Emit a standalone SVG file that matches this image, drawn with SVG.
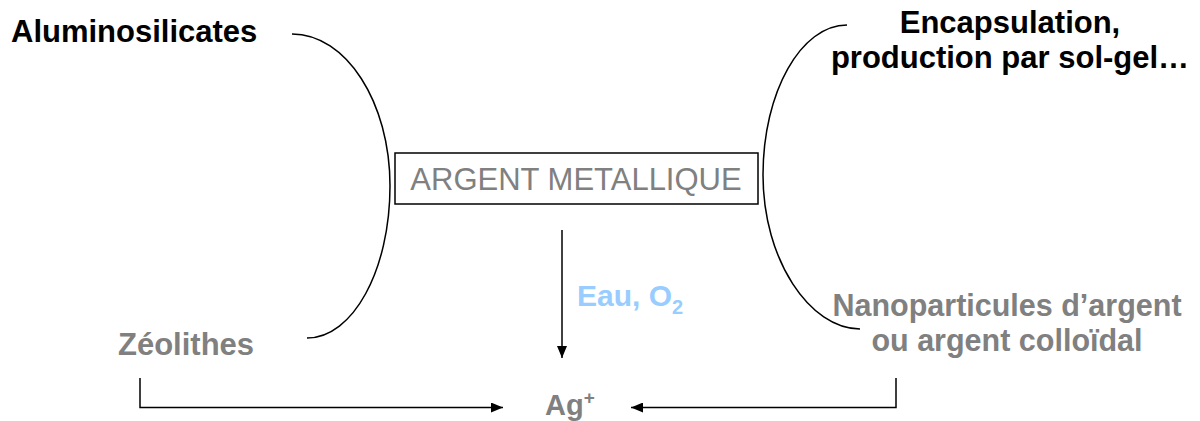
<svg xmlns="http://www.w3.org/2000/svg" width="1200" height="421" viewBox="0 0 1200 421">
<style>
.t{font-family:"Liberation Sans",Arial,sans-serif}
.b{font-weight:bold}
.blk{fill:#000}
.gry{fill:#808080}
.blu{fill:#99CCFF}
.ln{fill:none;stroke:#000;stroke-width:1.5}
</style>
<defs>
<marker id="ah" viewBox="0 0 12 10" refX="12" refY="5" markerWidth="12" markerHeight="10" markerUnits="userSpaceOnUse" orient="auto">
<path d="M0,0 L12,5 L0,10 Z" fill="#000"/>
</marker>
</defs>
<rect width="1200" height="421" fill="#fff"/>
<g id="aluminosilicates"><text class="t b blk" x="11" y="42" font-size="31">Aluminosilicates</text></g>
<g id="encapsulation"><text class="t b blk" font-size="31" text-anchor="middle"><tspan x="1010" y="33">Encapsulation,</tspan><tspan x="1010" y="68">production par sol-gel…</tspan></text></g>
<g id="argent-metallique">
<rect x="395" y="153" width="363" height="51" fill="none" stroke="#000" stroke-width="1.5"/>
<text class="t gry" x="576" y="190" font-size="31" text-anchor="middle">ARGENT METALLIQUE</text>
</g>
<g id="zeolithes"><text class="t b gry" x="118" y="355" font-size="31">Zéolithes</text></g>
<g id="nanoparticules"><text class="t b gry" font-size="30.5" text-anchor="middle"><tspan x="1007" y="316">Nanoparticules d’argent</tspan><tspan x="1007" y="351">ou argent colloïdal</tspan></text></g>
<g id="ag-ion"><text class="t b gry" x="545" y="415" font-size="29">Ag<tspan font-size="19" dy="-11">+</tspan></text></g>
<g id="eau-o2"><text class="t b blu" x="577" y="306" font-size="30">Eau, O<tspan font-size="20" dy="8">2</tspan></text></g>
<g id="connectors">
<path class="ln" d="M292,34 C346,34 390,102 390,186 C390,270 353,338 307,338"/>
<path class="ln" d="M847,25 C801,25 763,92 763,175 C763,260 810,329 860,329"/>
<path class="ln" d="M562,230 L562,358" marker-end="url(#ah)"/>
<path class="ln" d="M140,378 L140,407.5 L503,407.5" marker-end="url(#ah)"/>
<path class="ln" d="M896,378 L896,407.5 L631,407.5" marker-end="url(#ah)"/>
</g>
</svg>
